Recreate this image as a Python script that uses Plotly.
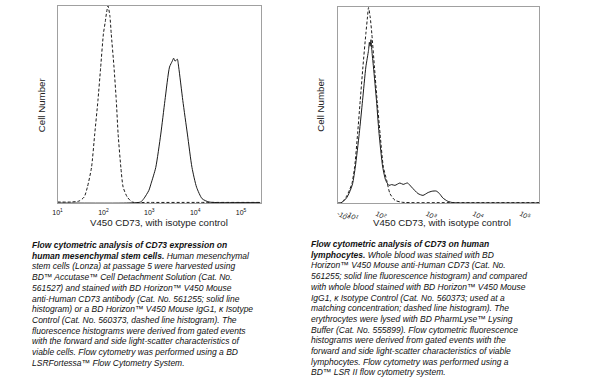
import plotly.graph_objects as go

W, H = 591, 384

# ---------------- data (x in decades of fluorescence, y relative cell count) ----------------
left_iso_x = [1.00, 1.29, 1.47, 1.58, 1.65, 1.74, 1.81, 1.88, 1.94, 2.00, 2.04, 2.07, 2.10,
              2.14, 2.17, 2.23, 2.28, 2.32, 2.38, 2.43, 2.52, 2.63, 3.00, 4.00, 5.42]
left_iso_y = [0.005, 0.005, 0.01, 0.03, 0.08, 0.18, 0.35, 0.52, 0.69, 0.86, 0.92, 0.97, 1.00,
              0.95, 0.86, 0.69, 0.52, 0.35, 0.18, 0.08, 0.03, 0.005, 0.003, 0.003, 0.003]

left_cd73_x = [1.00, 2.50, 2.81, 2.88, 2.99, 3.04, 3.14, 3.25, 3.34, 3.44, 3.50, 3.53, 3.56,
               3.61, 3.64, 3.73, 3.83, 3.93, 4.03, 4.15, 4.30, 5.00, 5.42]
left_cd73_y = [0.0, 0.0, 0.005, 0.022, 0.064, 0.10, 0.18, 0.35, 0.52, 0.69, 0.72, 0.735, 0.72,
               0.73, 0.69, 0.52, 0.35, 0.18, 0.08, 0.022, 0.005, 0.002, 0.002]

right_iso_x = [1.106, 1.155, 1.225, 1.296, 1.345, 1.40, 1.458, 1.521, 1.577, 1.634, 1.697, 1.732,
               1.754, 1.789, 1.824, 1.880, 1.937, 2.000, 2.070, 2.141, 2.211, 2.317, 2.458, 3.5, 5.40]
right_iso_y = [0.0, 0.0, 0.014, 0.039, 0.065, 0.099, 0.184, 0.354, 0.524, 0.694, 0.864, 0.949,
               0.997, 0.949, 0.864, 0.694, 0.524, 0.354, 0.184, 0.116, 0.048, 0.014, 0.004, 0.002, 0.002]

right_cd73_x = [1.106, 1.155, 1.225, 1.296, 1.366, 1.415, 1.472, 1.556, 1.627, 1.697, 1.754, 1.772,
                1.789, 1.806, 1.824, 1.859, 1.923, 1.979, 2.056, 2.120, 2.190, 2.246, 2.317, 2.423,
                2.493, 2.585, 2.669, 2.810, 2.915, 3.021, 3.106, 3.197, 3.268, 3.338, 3.444, 3.549,
                3.725, 5.40]
right_cd73_y = [0.0, 0.0, 0.01, 0.03, 0.065, 0.099, 0.184, 0.354, 0.524, 0.694, 0.779, 0.82,
                0.80, 0.833, 0.779, 0.694, 0.524, 0.354, 0.184, 0.116, 0.090, 0.094, 0.090, 0.102,
                0.095, 0.102, 0.082, 0.048, 0.039, 0.053, 0.060, 0.061, 0.048, 0.026, 0.009, 0.002,
                0.0, 0.0]

left_tick_vals = [1, 2, 3, 4, 5]
left_tick_text = ["10<sup>1</sup>", "10<sup>2</sup>", "10<sup>3</sup>", "10<sup>4</sup>", "10<sup>5</sup>"]
right_tick_vals = [1.106, 1.29, 1.93, 3, 4, 5]
right_tick_text = ["-10<sup>2</sup>", "-10<sup>1</sup>", "10<sup>2</sup>", "10<sup>3</sup>",
                   "10<sup>4</sup>", "10<sup>5</sup>"]

x_title = "V450 CD73, with isotype control"
y_title = "Cell Number"

BOLD = "<b><i><span style='font-size:8.5px'>%s</span></i></b>"

left_caption = [
    BOLD % "Flow cytometric analysis of CD73 expression on",
    BOLD % "human mesenchymal stem cells." + "<i> Human mesenchymal</i>",
    "<i>stem cells (Lonza) at passage 5 were harvested using</i>",
    "<i>BD™ Accutase™ Cell Detachment Solution (Cat. No.</i>",
    "<i>561527) and stained with BD Horizon™ V450 Mouse</i>",
    "<i>anti-Human CD73 antibody (Cat. No. 561255; solid line</i>",
    "<i>histogram) or a BD Horizon™ V450 Mouse IgG1, κ Isotype</i>",
    "<i>Control (Cat. No. 560373, dashed line histogram). The</i>",
    "<i>fluorescence histograms were derived from gated events</i>",
    "<i>with the forward and side light-scatter characteristics of</i>",
    "<i>viable cells. Flow cytometry was performed using a BD</i>",
    "<i>LSRFortessa™ Flow Cytometry System.</i>",
]
right_caption = [
    BOLD % "Flow cytometric analysis of CD73 on human",
    BOLD % "lymphocytes." + "<i> Whole blood was stained with BD</i>",
    "<i>Horizon™ V450 Mouse anti-Human CD73 (Cat. No.</i>",
    "<i>561255; solid line fluorescence histogram) and compared</i>",
    "<i>with whole blood stained with BD Horizon™ V450 Mouse</i>",
    "<i>IgG1, κ Isotype Control (Cat. No. 560373; used at a</i>",
    "<i>matching concentration; dashed line histogram). The</i>",
    "<i>erythrocytes were lysed with BD PharmLyse™ Lysing</i>",
    "<i>Buffer (Cat. No. 555899). Flow cytometric fluorescence</i>",
    "<i>histograms were derived from gated events with the</i>",
    "<i>forward and side light-scatter characteristics of viable</i>",
    "<i>lymphocytes. Flow cytometry was performed using a</i>",
    "<i>BD™ LSR II flow cytometry system.</i>",
]

# ---------------- figure ----------------
FONT = "Liberation Sans, Arial, sans-serif"
LINE = "#1a1a1a"
FRAME = "#a0a0a0"

def px(x):
    return x / W

def py(y):
    return 1 - y / H

fig = go.Figure()
fig.add_trace(go.Scatter(x=left_iso_x, y=left_iso_y, mode="lines", xaxis="x", yaxis="y",
                         line=dict(color=LINE, width=1, dash="3px,2px", shape="spline", smoothing=0.6)))
fig.add_trace(go.Scatter(x=left_cd73_x, y=left_cd73_y, mode="lines", xaxis="x", yaxis="y",
                         line=dict(color=LINE, width=1, shape="spline", smoothing=0.6)))
fig.add_trace(go.Scatter(x=right_iso_x, y=right_iso_y, mode="lines", xaxis="x2", yaxis="y2",
                         line=dict(color=LINE, width=1, dash="3px,2px", shape="spline", smoothing=0.6)))
fig.add_trace(go.Scatter(x=right_cd73_x, y=right_cd73_y, mode="lines", xaxis="x2", yaxis="y2",
                         line=dict(color=LINE, width=1, shape="spline", smoothing=0.6)))

axis_common = dict(showgrid=False, zeroline=False, showline=True, linecolor=FRAME, linewidth=1,
                   mirror=True, ticks="", fixedrange=True)

fig.update_layout(
    width=W, height=H, margin=dict(l=0, r=0, t=0, b=0),
    paper_bgcolor="white", plot_bgcolor="white", showlegend=False,
    font=dict(family=FONT, color="#111"),
    xaxis=dict(domain=[px(53), px(258)], range=[1.0, 5.43], tickvals=left_tick_vals,
               ticktext=left_tick_text, tickfont=dict(size=7, color="#111"), anchor="y",
               ticklabelstandoff=3, **axis_common),
    yaxis=dict(domain=[py(203), py(6)], range=[0, 1.0], showticklabels=False, anchor="x", **axis_common),
    xaxis2=dict(domain=[px(336), px(539)], range=[1.106, 5.40], tickvals=right_tick_vals,
                ticktext=right_tick_text, tickfont=dict(size=7, color="#111"), anchor="y2",
                ticklabelstandoff=3, **axis_common),
    yaxis2=dict(domain=[py(203), py(7)], range=[0, 1.0], showticklabels=False, anchor="x2", **axis_common),
)

ann = []
# axis titles
ann.append(dict(x=px(155), y=py(222.5), xref="paper", yref="paper", text=x_title, showarrow=False,
                font=dict(size=9.7, color="#222"), xanchor="center", yanchor="middle"))
ann.append(dict(x=px(441), y=py(222.5), xref="paper", yref="paper", text=x_title, showarrow=False,
                font=dict(size=9.7, color="#222"), xanchor="center", yanchor="middle"))
ann.append(dict(x=px(37), y=py(104.5), xref="paper", yref="paper", text=y_title, showarrow=False,
                textangle=-90, font=dict(size=9.7, color="#222"), xanchor="center", yanchor="middle"))
ann.append(dict(x=px(318), y=py(104.5), xref="paper", yref="paper", text=y_title, showarrow=False,
                textangle=-90, font=dict(size=9.7, color="#222"), xanchor="center", yanchor="middle"))

# captions
for i, line in enumerate(left_caption):
    ann.append(dict(x=px(25), y=py(245 + i * 10.7), xref="paper", yref="paper", text=line,
                    showarrow=False, xanchor="left", yanchor="middle",
                    font=dict(size=8.5, color="#111")))
for i, line in enumerate(right_caption):
    ann.append(dict(x=px(307), y=py(244 + i * 10.7), xref="paper", yref="paper", text=line,
                    showarrow=False, xanchor="left", yanchor="middle",
                    font=dict(size=8.5, color="#111")))

fig.update_layout(annotations=ann)
fig.write_html("out.html", config={"displayModeBar": False},
               post_script="document.body.style.margin='0';document.body.style.overflow='hidden';")
